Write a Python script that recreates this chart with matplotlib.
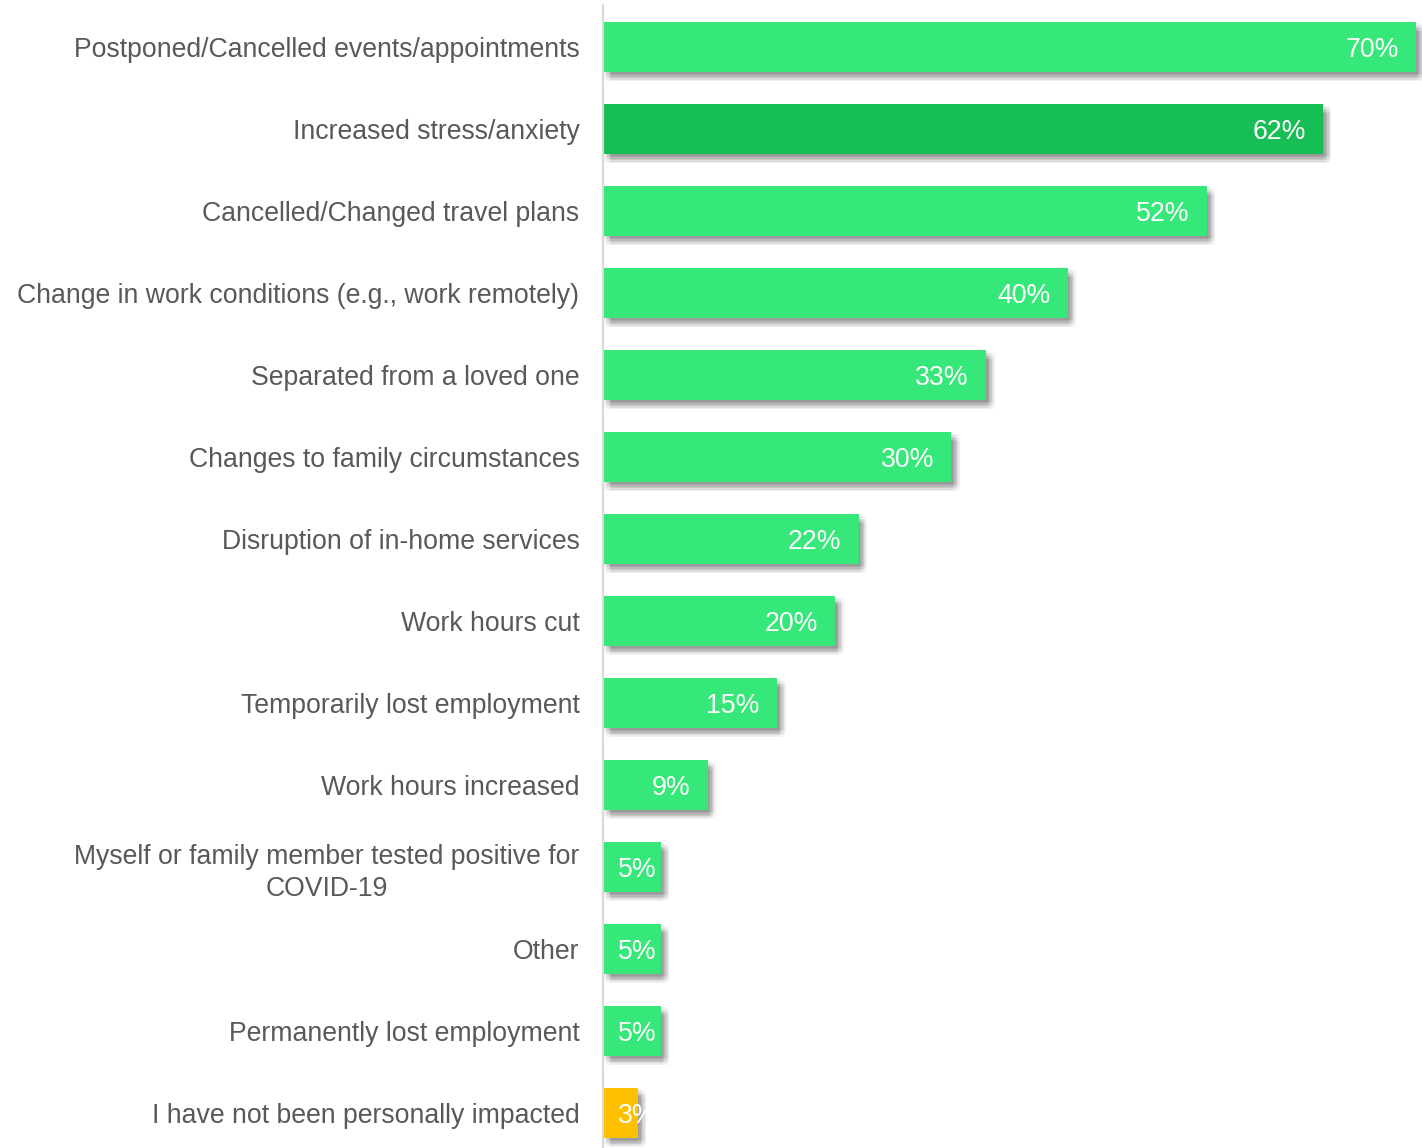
import matplotlib
matplotlib.use("Agg")
import matplotlib.pyplot as plt
import matplotlib.patheffects as pe

plt.rcParams['font.family'] = ['Liberation Sans', 'DejaVu Sans']

categories = [
    "Postponed/Cancelled events/appointments",
    "Increased stress/anxiety",
    "Cancelled/Changed travel plans",
    "Change in work conditions (e.g., work remotely)",
    "Separated from a loved one",
    "Changes to family circumstances",
    "Disruption of in-home services",
    "Work hours cut",
    "Temporarily lost employment",
    "Work hours increased",
    "Myself or family member tested positive for\nCOVID-19",
    "Other",
    "Permanently lost employment",
    "I have not been personally impacted",
]
values = [70, 62, 52, 40, 33, 30, 22, 20, 15, 9, 5, 5, 5, 3]

LIGHT = "#36E87A"
DARK = "#17BE55"
YELLOW = "#FFC000"
bar_colors = [LIGHT, DARK] + [LIGHT] * 11 + [YELLOW]

fig = plt.figure(figsize=(14.22, 11.48), dpi=100)
ax = fig.add_axes([603 / 1422, 0, 1 - 603 / 1422, (1148 - 5) / 1148])

# soft drop shadow built from stacked translucent offsets
shadow = []
for dx in (1.0, 2.0, 3.0, 4.0, 5.0, 6.0):
    for dy in (1.5, 2.5, 3.5, 4.5, 5.5, 6.5):
        shadow.append(pe.SimplePatchShadow(offset=(dx, -dy), shadow_rgbFace="black", alpha=0.011))
shadow.append(pe.Normal())

ypos = list(range(len(values)))
bars = ax.barh(ypos, values, height=0.61, color=bar_colors, edgecolor="none", zorder=3)
for b in bars:
    b.set_path_effects(shadow)

for y, v in zip(ypos, values):
    x = max(v - 1.5, 4.6)
    ax.text(x, y, f"{v}%", ha="right", va="center_baseline", color="white", fontsize=19.2, zorder=5)

ax.set_xlim(0, 70.52)
ax.set_ylim(13.43, -0.512)
ax.set_yticks(ypos)
ax.set_yticklabels(categories, fontsize=19.2, color="#595959", multialignment="center", linespacing=1.3)
ax.tick_params(axis="y", length=0, pad=17)
ax.set_xticks([])
for s in ("top", "right", "bottom"):
    ax.spines[s].set_visible(False)
ax.spines["left"].set_color("#D9D9D9")
ax.spines["left"].set_linewidth(1.5)
ax.spines["left"].set_zorder(6)

fig.savefig("out.png", dpi=100)
